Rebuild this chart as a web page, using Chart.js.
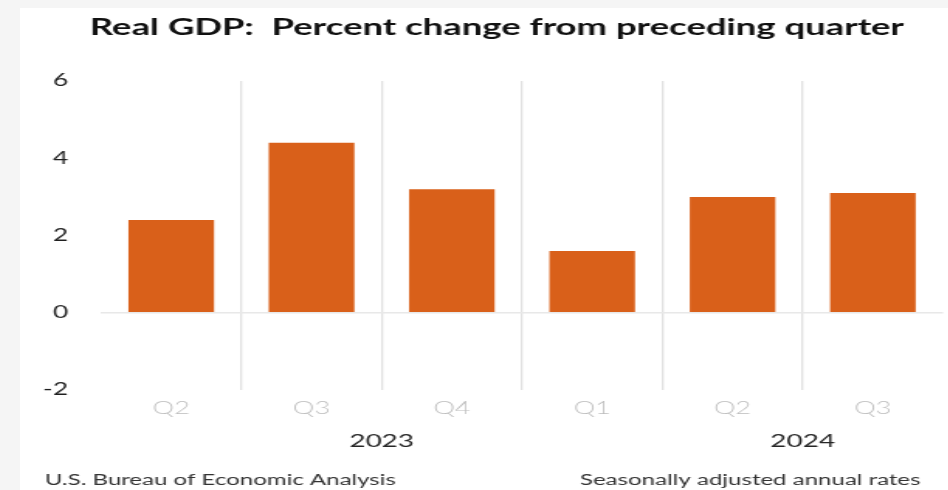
<!DOCTYPE html>
<html>
<head>
<meta charset="utf-8">
<script src="https://cdn.jsdelivr.net/npm/chart.js@4.4.1/dist/chart.umd.min.js"></script>
<style>
  html, body { margin: 0; padding: 0; background: #f5f5f5; }
  #wrap { position: absolute; left: 20px; top: 8px; width: 928px; height: 482px; background: #fff; overflow: hidden; }
  /* the reference is stretched sideways, so the chart is drawn narrow and widened here */
  #stretch { width: 599px; height: 482px; transform: scaleX(1.55); transform-origin: 0 0; }
</style>
</head>
<body>
<div id="wrap"><div id="stretch"><canvas id="gdp" width="599" height="482"></canvas></div></div>
<script>
const quarters = ['Q2', 'Q3', 'Q4', 'Q1', 'Q2', 'Q3'];
const gdpChange = [2.4, 4.4, 3.2, 1.6, 3.0, 3.1];
const years = ['2023', '2024'];
const yearAt = [1.5, 4.5];
const yTicks = [-2, 0, 2, 4, 6];
const titleText = 'Real GDP:  Percent change from preceding quarter';
const sourceText = 'U.S. Bureau of Economic Analysis';
const noteText = 'Seasonally adjusted annual rates';

const FONT = 'Lato, "Open Sans", sans-serif';

// title and the two footer notes sit off the plot, drawn straight on the canvas
const textPlugin = {
  id: 'pageText',
  afterDraw(chart) {
    const ctx = chart.ctx;
    ctx.save();
    ctx.textBaseline = 'middle';
    ctx.font = 'bold 23.5px ' + FONT;
    ctx.fillStyle = '#111';
    ctx.textAlign = 'center';
    ctx.fillText(titleText, 307.7, 19.5);
    ctx.font = '15.5px ' + FONT;
    ctx.fillStyle = '#333';
    ctx.textAlign = 'left';
    ctx.fillText(sourceText, 16, 472);
    ctx.textAlign = 'right';
    ctx.fillText(noteText, 581, 472);
    ctx.restore();
  }
};

const ctx = document.getElementById('gdp').getContext('2d');

new Chart(ctx, {
  type: 'bar',
  data: {
    labels: quarters,
    datasets: [
      {
        label: 'Real GDP',
        data: gdpChange,
        backgroundColor: '#d9601a',
        borderWidth: 0,
        categoryPercentage: 1,
        barPercentage: 0.61,
      },
    ],
  },
  options: {
    responsive: false,
    animation: false,
    devicePixelRatio: 1,
    layout: { padding: { left: 0, right: 3.5, top: 73, bottom: 0 } },
    plugins: {
      legend: { display: false },
      tooltip: { enabled: false },
      title: { display: false },
    },
    scales: {
      x: {
        type: 'category',
        offset: true,
        border: { display: false },
        grid: {
          offset: true,
          drawTicks: false,
          lineWidth: 1.3,
          color: (c) => (c.type === 'tick' && c.index > 0 ? '#e2e2e2' : 'rgba(0,0,0,0)'),
        },
        ticks: {
          color: '#bdbdbd',
          font: { family: FONT, size: 17.5, weight: 300 },
          padding: 7.5,
        },
        afterFit: (scale) => { scale.height = 30; },
      },
      x2: {
        type: 'linear',
        position: 'bottom',
        min: -0.5,
        max: 5.5,
        offset: false,
        border: { display: false },
        grid: { display: false, drawTicks: false, offset: false },
        afterBuildTicks: (scale) => { scale.ticks = yearAt.map((v) => ({ value: v })); },
        ticks: {
          color: '#262626',
          font: { family: FONT, size: 18 },
          padding: 10.2,
          autoSkip: false,
          maxRotation: 0,
          callback: (v) => years[yearAt.indexOf(v)] || '',
        },
        afterFit: (scale) => { scale.height = 70; },
      },
      y: {
        min: -2,
        max: 6,
        border: { display: false },
        grid: {
          drawTicks: false,
          lineWidth: 1.5,
          color: (c) => (c.tick && c.tick.value === 0 ? '#e8e8e8' : 'rgba(0,0,0,0)'),
        },
        afterBuildTicks: (scale) => { scale.ticks = yTicks.map((v) => ({ value: v })); },
        ticks: {
          color: '#1f1f1f',
          font: { family: FONT, size: 17 },
          padding: 21.3,
          callback: (v) => String(v),
        },
        afterFit: (scale) => { scale.width = 52.3; },
      },
    },
  },
  plugins: [textPlugin],
});
</script>
</body>
</html>
